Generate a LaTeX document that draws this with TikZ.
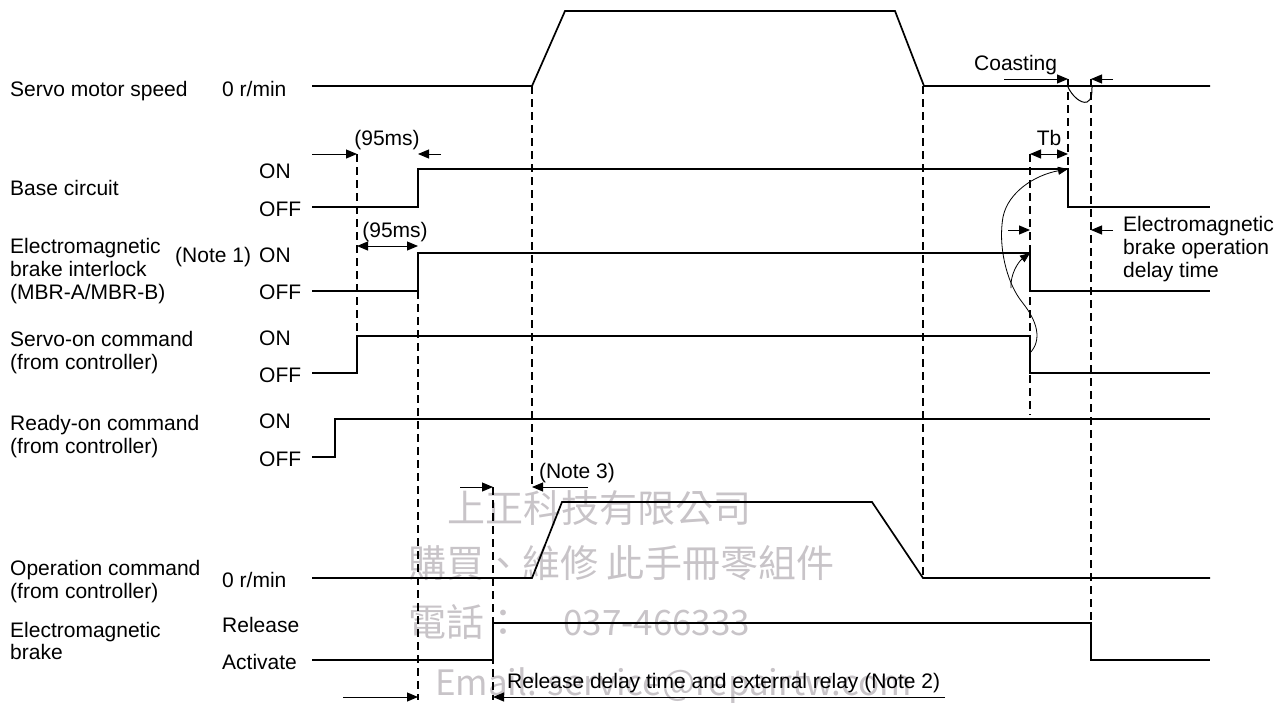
\documentclass[tikz,border=0pt]{standalone}
\usepackage{fontspec}
\setmainfont{Liberation Sans}
\newfontfamily\cjkwm{Noto Sans CJK TC}
\usetikzlibrary{arrows.meta}
\definecolor{wmcol}{RGB}{200,196,200}
\newcommand\lbfont{\fontsize{21}{22.5}\selectfont}
\begin{document}
\begin{tikzpicture}[x=1pt,y=-1pt,
  lbl/.style={anchor=base west, inner sep=0pt, font=\lbfont},
  lblc/.style={anchor=base, inner sep=0pt, font=\lbfont},
  wmk/.style={anchor=base west, inner sep=0pt, text=wmcol, font=\cjkwm\fontsize{38}{40}\selectfont},
  wml/.style={anchor=base west, inner sep=0pt, text=wmcol, font=\cjkwm\fontsize{35}{40}\selectfont},
  sig/.style={line width=1.7pt, line join=miter},
  dashln/.style={line width=1.3pt, dash pattern=on 8pt off 5pt},
  dim/.style={line width=1pt},
  arr/.style={-{Triangle[length=11pt,width=9pt]}},
  arrs/.style={{Triangle[length=11pt,width=9pt]}-{Triangle[length=11pt,width=9pt]}},
  curv/.style={line width=0.8pt, -{Triangle[length=10pt,width=8pt]}}
]
\useasboundingbox (0,0) rectangle (1285,702);

% watermark
\node[wmk] (wm1) at (447,522) {上正科技有限公司};
\node[wmk] (wm2) at (408,577) {購買、維修 此手冊零組件};
\node[wmk] (wm3) at (408,636) {電話：};
\node[wml] (wm4) at (563,635) {037-466333};
\node[wml] (wm5) at (435,695) {Email: service@repairtw.com};

% left labels
\node[lbl] (l1) at (10,96) {Servo motor speed};
\node[lbl] (l1z) at (222,96) {0 r/min};
\node[lbl] (l2) at (10,195) {Base circuit};
\node[lbl] (l2on) at (259,178) {ON};
\node[lbl] (l2off) at (259,216) {OFF};
\node[lbl] (l3a) at (10,253) {Electromagnetic};
\node[lbl] (l3b) at (10,276) {brake interlock};
\node[lbl] (l3c) at (10,299) {(MBR-A/MBR-B)};
\node[lbl] (l3n) at (175,262) {(Note 1)};
\node[lbl] (l3on) at (259,262) {ON};
\node[lbl] (l3off) at (259,299) {OFF};
\node[lbl] (l4a) at (10,346) {Servo-on command};
\node[lbl] (l4b) at (10,369) {(from controller)};
\node[lbl] (l4on) at (259,345) {ON};
\node[lbl] (l4off) at (259,382) {OFF};
\node[lbl] (l5a) at (10,430) {Ready-on command};
\node[lbl] (l5b) at (10,453) {(from controller)};
\node[lbl] (l5on) at (259,428) {ON};
\node[lbl] (l5off) at (259,466) {OFF};
\node[lbl] (l6a) at (10,575) {Operation command};
\node[lbl] (l6b) at (10,598) {(from controller)};
\node[lbl] (l6z) at (222,587) {0 r/min};
\node[lbl] (l7a) at (10,637) {Electromagnetic};
\node[lbl] (l7b) at (10,659) {brake};
\node[lbl] (l7r) at (222,632) {Release};
\node[lbl] (l7c) at (222,669) {Activate};

% annotation labels
\node[lblc] (t95a) at (387,145) {(95ms)};
\node[lblc] (t95b) at (395,237) {(95ms)};
\node[lblc] (tn3) at (577,478) {(Note 3)};
\node[lblc] (ttb) at (1049,145) {Tb};
\node[lbl] (tco) at (974,70) {Coasting};
\node[lbl] (td1) at (1123,231) {Electromagnetic};
\node[lbl] (td2) at (1123,254) {brake operation};
\node[lbl] (td3) at (1123,277) {delay time};
\node[lbl] (tn2) at (507,688) {Release delay time and external relay (Note 2)};

% dashed guides
\draw[dashln] (357,154) -- (357,336);
\draw[dashln] (418,291) -- (418,700);
\draw[dashln] (493,487) -- (493,700);
\draw[dashln] (532,86) -- (532,487);
\draw[dashln] (923,86) -- (923,578);
\draw[dashln] (1030,154) -- (1030,415);
\draw[dashln] (1068,79) -- (1068,169);
\draw[dashln] (1091,79) -- (1091,623);

% signals
\draw[sig] (312,86) -- (532,86) -- (565,11) -- (895,11) -- (924,86) -- (1210,86);
\draw[line width=1pt] (1068,87) .. controls (1072,96) and (1081,104) .. (1087,102) .. controls (1092,100) and (1092,93) .. (1092,87);
\draw[sig] (312,207) -- (418,207) -- (418,169) -- (1068,169) -- (1068,207) -- (1210,207);
\draw[sig] (312,291) -- (418,291) -- (418,253) -- (1030,253) -- (1030,291) -- (1210,291);
\draw[sig] (312,373) -- (357,373) -- (357,336) -- (1030,336) -- (1030,373) -- (1210,373);
\draw[sig] (312,457) -- (335,457) -- (335,419) -- (1210,419);
\draw[sig] (312,578) -- (532,578) -- (562,502) -- (872,502) -- (923,578) -- (1210,578);
\draw[sig] (312,660) -- (493,660) -- (493,623) -- (1091,623) -- (1091,660) -- (1210,660);

% dimension arrows
\draw[dim,arr] (312,154) -- (357,154);
\draw[dim,arr] (441,154) -- (418,154);
\draw[dim,arrs] (357,246) -- (418,246);
\draw[dim,arrs] (1030,154) -- (1068,154);
\draw[dim,arr] (1004,79) -- (1068,79);
\draw[dim,arr] (1113,79) -- (1091,79);
\draw[dim,arr] (1008,230) -- (1030,230);
\draw[dim,arr] (1113,230) -- (1091,230);
\draw[dim,arr] (460,487) -- (493,487);
\draw[dim,arr] (588,487) -- (532,487);
\draw[dim,arr] (343,697) -- (418,697);
\draw[dim,arr] (945,697) -- (493,697);

% causal curves
\draw[curv] (1030,353) .. controls (1042,340) and (1038,322) .. (1022,302)
  .. controls (1006,282) and (998,245) .. (1003,217)
  .. controls (1008,192) and (1035,175) .. (1068,169);
\draw[curv] (1011,288) .. controls (1010,275) and (1018,262) .. (1030,253);
\end{tikzpicture}
\end{document}
